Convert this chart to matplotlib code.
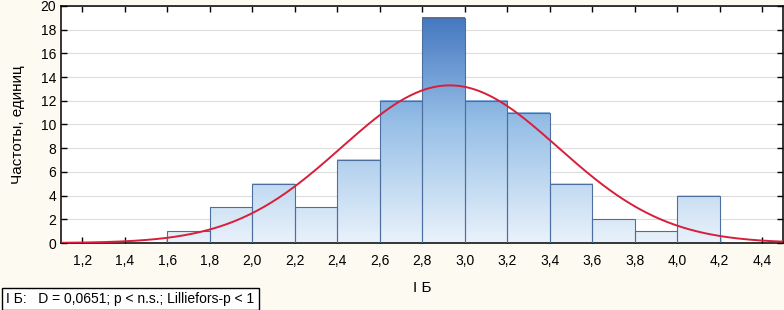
import numpy as np
import matplotlib
matplotlib.use("Agg")
import matplotlib.pyplot as plt
from matplotlib.ticker import FuncFormatter
from matplotlib.colors import LinearSegmentedColormap

plt.rcParams['font.family'] = ['Liberation Sans', 'DejaVu Sans']

bin_left = [1.6, 1.8, 2.0, 2.2, 2.4, 2.6, 2.8, 3.0, 3.2, 3.4, 3.6, 3.8, 4.0]
counts = [1, 3, 5, 3, 7, 12, 19, 12, 11, 5, 2, 1, 4]
bin_width = 0.2
fit_mean = 2.93
fit_sd = 0.51
xticks = [1.2, 1.4, 1.6, 1.8, 2.0, 2.2, 2.4, 2.6, 2.8, 3.0, 3.2, 3.4, 3.6, 3.8, 4.0, 4.2, 4.4]
yticks = [0, 2, 4, 6, 8, 10, 12, 14, 16, 18, 20]
stats_text = "I Б:   D = 0,0651; p < n.s.; Lilliefors-p < 1"

fig = plt.figure(figsize=(7.84, 3.10), dpi=100, facecolor='#fdfaf2')
ax = fig.add_axes([0.078, 0.216, 0.921, 0.765])
ax.set_facecolor('white')

cmap = LinearSegmentedColormap.from_list('g', ['#e9f2fb', '#98c0e7', '#3c70bc'])
for x0, c in zip(bin_left, counts):
    grad = np.linspace(0, c, 100).reshape(-1, 1)
    ax.imshow(grad, extent=(x0, x0 + bin_width, 0, c), origin='lower', aspect='auto',
              cmap=cmap, vmin=0, vmax=20, zorder=2)
ax.bar(bin_left, counts, width=bin_width, align='edge', facecolor='none',
       edgecolor='#4d6f9f', linewidth=0.8, zorder=3)
ax.set_xlim(1.1, 4.5)
ax.set_ylim(0, 20)

n = sum(counts)
xs = np.linspace(1.1, 4.5, 400)
ys = n * bin_width / (fit_sd * np.sqrt(2 * np.pi)) * np.exp(-0.5 * ((xs - fit_mean) / fit_sd) ** 2)
ax.plot(xs, ys, color='#d81e3a', linewidth=1.4, zorder=4)

ax.set_yticks(yticks)
ax.set_xticks(xticks)
ax.xaxis.set_major_formatter(FuncFormatter(lambda v, p: f"{v:.1f}".replace('.', ',')))
ax.grid(axis='y', color='#dcdcdc', linewidth=0.8, zorder=0)
ax.set_axisbelow(True)
ax.tick_params(direction='in', top=True, right=True, length=4, width=1, labelsize=10)
ax.tick_params(axis='x', pad=8)
for s in ax.spines.values():
    s.set_linewidth(1.1)

ax.set_ylabel("Частоты, единиц", fontsize=11, labelpad=11)
fig.text(0.527, 0.07, "I Б", fontsize=11, ha='left', va='center')

fig.text(0.008, 0.035, stats_text, fontsize=10, ha='left', va='center',
         bbox=dict(boxstyle='square,pad=0.3', facecolor='white', edgecolor='black', linewidth=1))

fig.savefig("out.png", dpi=100, facecolor=fig.get_facecolor())
